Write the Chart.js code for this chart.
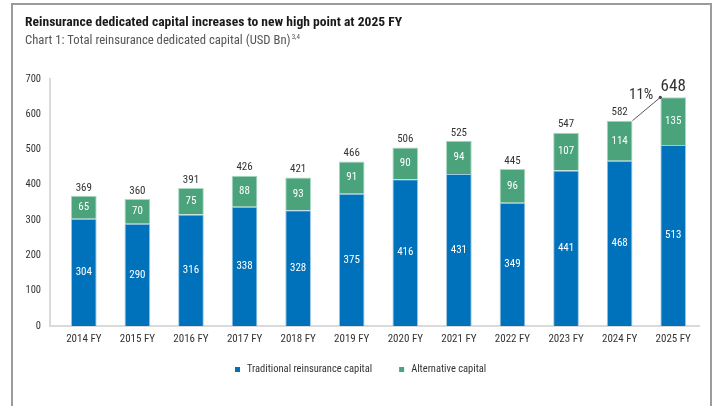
<!DOCTYPE html>
<html>
<head>
<meta charset="utf-8">
<script src="https://cdn.jsdelivr.net/npm/chart.js@4.4.0/dist/chart.umd.min.js"></script>
<style>
  html, body { margin: 0; padding: 0; background: #fff; }
</style>
</head>
<body>
<canvas id="capitalChart" width="715" height="406"></canvas>
<script>
const years = ['2014 FY', '2015 FY', '2016 FY', '2017 FY', '2018 FY', '2019 FY',
    '2020 FY', '2021 FY', '2022 FY', '2023 FY', '2024 FY', '2025 FY'];
const traditional = [304, 290, 316, 338, 328, 375, 416, 431, 349, 441, 468, 513];
const alternative = [65, 70, 75, 88, 93, 91, 90, 94, 96, 107, 114, 135];
const totals = [369, 360, 391, 426, 421, 466, 506, 525, 445, 547, 582, 648];
const growth = '11%';
const yMax = 700;
const yStep = 100;

const FONT = "'Liberation Sans Narrow', 'Roboto Condensed', 'DejaVu Sans Condensed', sans-serif";
const BLUE = '#0072bb';
const GREEN = '#4aa37b';

const decorations = {
    id: 'decorations',
    beforeDraw(chart) {
        const c = chart.ctx;
        const area = chart.chartArea;
        c.save();
        c.fillStyle = '#fff';
        c.fillRect(0, 0, chart.width, chart.height);

        // frame
        c.strokeStyle = '#9b9b9b';
        c.lineWidth = 2;
        c.beginPath();
        c.moveTo(12, chart.height);
        c.lineTo(12, 4);
        c.lineTo(711, 4);
        c.lineTo(711, chart.height);
        c.stroke();

        // title + subtitle
        c.textBaseline = 'alphabetic';
        c.textAlign = 'left';
        c.fillStyle = '#1a1a1a';
        c.font = 'bold 13.6px ' + FONT;
        c.fillText('Reinsurance dedicated capital increases to new high point at 2025 FY', 25, 26);
        c.fillStyle = '#555';
        c.font = '12.7px ' + FONT;
        const sub = 'Chart 1: Total reinsurance dedicated capital (USD Bn)';
        c.fillText(sub, 25, 44);
        const w = c.measureText(sub).width;
        c.font = '7px ' + FONT;
        c.fillText('3,4', 25 + w + 1, 39);

        // axis lines
        c.strokeStyle = '#dadada';
        c.lineWidth = 2;
        c.beginPath();
        c.moveTo(50, chart.scales.y.getPixelForValue(yMax) - 1);
        c.lineTo(50, area.bottom);
        c.lineTo(area.right, area.bottom);
        c.stroke();
        c.restore();
    },
    afterDatasetsDraw(chart) {
        const c = chart.ctx;
        const blueBars = chart.getDatasetMeta(0).data;
        const greenBars = chart.getDatasetMeta(1).data;
        c.save();
        c.textAlign = 'center';
        c.textBaseline = 'middle';

        // segment values
        c.fillStyle = '#fff';
        c.font = '11px ' + FONT;
        [blueBars, greenBars].forEach((bars, d) => {
            const vals = chart.data.datasets[d].data;
            bars.forEach((b, i) => {
                c.fillText(vals[i], b.x, (b.y + b.base) / 2);
            });
        });

        // totals
        c.fillStyle = '#333';
        greenBars.forEach((b, i) => {
            if (i === totals.length - 1) {
                c.font = '17px ' + FONT;
                c.fillText(totals[i], b.x, b.y - 11);
            } else {
                c.font = '11px ' + FONT;
                c.fillText(totals[i], b.x, b.y - 8);
            }
        });

        // growth connector
        const a = greenBars[greenBars.length - 2];
        const z = greenBars[greenBars.length - 1];
        const x0 = a.x + a.width / 2, y0 = a.y;
        const x1 = z.x - z.width / 2, y1 = z.y;
        c.strokeStyle = '#555';
        c.lineWidth = 1;
        c.beginPath();
        c.moveTo(x0, y0);
        c.lineTo(x1, y1);
        c.stroke();
        c.fillStyle = '#444';
        c.beginPath();
        c.arc(x1, y1, 1.6, 0, Math.PI * 2);
        c.fill();
        c.font = '15px ' + FONT;
        c.textAlign = 'right';
        c.fillStyle = '#333';
        c.fillText(growth, x1 - 7, y1 - 2);

        // legend
        c.textAlign = 'left';
        c.font = '10.5px ' + FONT;
        let lx = 235;
        chart.data.datasets.forEach(ds => {
            c.fillStyle = ds.backgroundColor;
            c.fillRect(lx, 367, 5, 5);
            c.fillStyle = '#333';
            c.fillText(ds.label, lx + 12, 369.5);
            lx += 12 + c.measureText(ds.label).width + 27;
        });
        c.restore();
    }
};

new Chart(document.getElementById('capitalChart'), {
    type: 'bar',
    data: {
        labels: years,
        datasets: [{
            label: 'Traditional reinsurance capital',
            data: traditional,
            backgroundColor: BLUE,
            borderColor: '#9cc8e4',
            borderWidth: 1,
            categoryPercentage: 1,
            barPercentage: 0.48
        }, {
            label: 'Alternative capital',
            data: alternative,
            backgroundColor: GREEN,
            borderColor: '#a9d9c2',
            borderWidth: 1,
            categoryPercentage: 1,
            barPercentage: 0.48
        }]
    },
    options: {
        responsive: false,
        devicePixelRatio: 1,
        animation: false,
        layout: { padding: { top: 79, right: 15, bottom: 60, left: 0 } },
        plugins: {
            legend: { display: false },
            tooltip: { enabled: false }
        },
        scales: {
            x: {
                stacked: true,
                grid: { display: false, drawTicks: false },
                border: { display: false },
                ticks: { color: '#333', padding: 7, font: { family: FONT, size: 11 } },
                afterFit: s => { s.height = 20; }
            },
            y: {
                stacked: true,
                min: 0,
                max: yMax,
                grid: { display: false, drawTicks: false },
                border: { display: false },
                ticks: { stepSize: yStep, color: '#333', padding: 16, font: { family: FONT, size: 10.5 } },
                afterFit: s => { s.width = 57; }
            }
        }
    },
    plugins: [decorations]
});
</script>
</body>
</html>
